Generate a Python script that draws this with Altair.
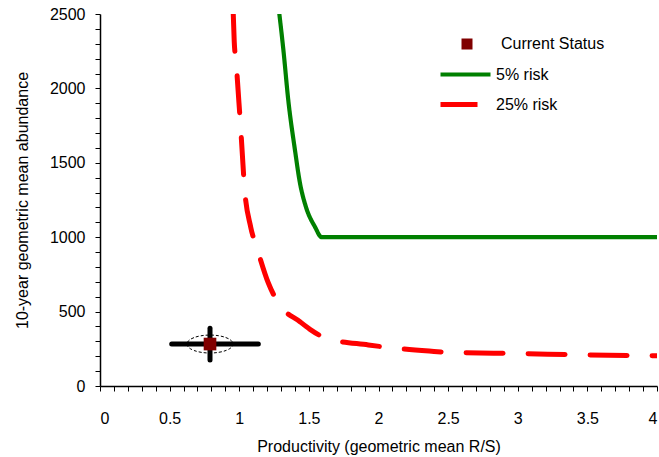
import altair as alt
import pandas as pd

# 5% risk curve
g_x = [1.288, 1.317, 1.352, 1.400, 1.436, 1.479, 1.544, 1.592, 4.0]
g_y = [2500, 2258, 1922, 1586, 1364, 1203, 1069, 1000, 1000]
# 25% risk curve
r_x = [0.957, 0.964, 0.977, 0.998, 1.008, 1.027, 1.036, 1.082, 1.125, 1.209, 1.280,
       1.436, 1.508, 1.627, 1.927, 2.063, 2.364, 2.508, 3.0, 3.5, 4.0]
r_y = [2500, 2314, 2180, 1902, 1767, 1485, 1351, 1069, 934, 692, 558,
       432, 381, 320, 276, 260, 235, 226, 218, 209, 203]
# current status with ranges
s_x = [0.79]
s_y = [282]
s_x_lo = [0.515]
s_x_hi = [1.137]
s_y_lo = [175]
s_y_hi = [388]

FONT = "Liberation Sans"
SERIES = ["5% risk", "25% risk"]

lines = pd.DataFrame({
    "x": g_x + r_x,
    "y": g_y + r_y,
    "series": [SERIES[0]] * len(g_x) + [SERIES[1]] * len(r_x),
    "order": list(range(len(g_x))) + list(range(len(r_x))),
})
status = pd.DataFrame({"x": s_x, "y": s_y, "xlo": s_x_lo, "xhi": s_x_hi,
                       "ylo": s_y_lo, "yhi": s_y_hi, "series": ["Current Status"]})

xs = alt.Scale(domain=[0, 4], nice=False, zero=False)
ys = alt.Scale(domain=[0, 2500], nice=False, zero=False)

x_ticks = [round(i * 0.1, 1) for i in range(41)]
y_ticks = list(range(0, 2501, 100))

x_axis = alt.Axis(title="Productivity (geometric mean R/S)", values=x_ticks, tickCount=len(x_ticks),
                  labelExpr="abs(datum.value*2 - round(datum.value*2)) < 1e-6 ? format(datum.value, '.1~f') : ''",
                  grid=False, tickSize=5, labelPadding=19, titlePadding=12, labelOverlap=False)
y_axis = alt.Axis(title="10-year geometric mean abundance", values=y_ticks, tickCount=len(y_ticks),
                  labelExpr="datum.value % 500 == 0 ? format(datum.value, 'd') : ''",
                  grid=False, tickSize=5, labelPadding=10, titlePadding=19, labelOverlap=False)

line_color = alt.Color("series:N",
                       scale=alt.Scale(domain=SERIES, range=["#008000", "#ff0000"]),
                       legend=alt.Legend(title=None, orient="none", legendX=353, legendY=48,
                                         symbolType="M -2.5 0 L 2.5 0", symbolSize=400,
                                         symbolStrokeWidth=3.5,
                                         labelFontSize=16, labelFont=FONT, labelOffset=18,
                                         rowPadding=9, padding=0))
line_dash = alt.StrokeDash("series:N",
                           scale=alt.Scale(domain=SERIES, range=[[1, 0], [37, 25]]),
                           legend=None)
line_width = alt.StrokeWidth("series:N",
                             scale=alt.Scale(domain=SERIES, range=[4.2, 5]),
                             legend=None)

curves = alt.Chart(lines).mark_line(interpolate="monotone", clip=True, strokeCap="round").encode(
    x=alt.X("x:Q", scale=xs, axis=x_axis),
    y=alt.Y("y:Q", scale=ys, axis=y_axis),
    color=line_color,
    strokeDash=line_dash,
    strokeWidth=line_width,
    order="order:Q",
)

hbar = alt.Chart(status).mark_rule(color="black", strokeWidth=5, strokeCap="round").encode(
    x="xlo:Q", x2="xhi:Q", y="y:Q")
vbar = alt.Chart(status).mark_rule(color="black", strokeWidth=5, strokeCap="round").encode(
    x="x:Q", y="ylo:Q", y2="yhi:Q")
ellipse = alt.Chart(status).mark_point(
    shape="M -1 0 A 1 0.39 0 1 0 1 0 A 1 0.39 0 1 0 -1 0 Z",
    size=2116, filled=False, stroke="black", strokeWidth=1, strokeDash=[3, 2], opacity=1
).encode(x="x:Q", y="y:Q")
square = alt.Chart(status).mark_point(filled=True, size=160, opacity=1).encode(
    x="x:Q", y="y:Q",
    shape=alt.Shape("series:N", scale=alt.Scale(domain=["Current Status"], range=["square"]),
                    legend=alt.Legend(title=None, orient="none", legendX=359, legendY=22,
                                      symbolSize=121, symbolFillColor="#800000",
                                      symbolStrokeColor="#800000", symbolStrokeWidth=0,
                                      labelFontSize=16, labelFont=FONT, labelOffset=26, padding=0)),
    color=alt.value("#800000"),
)

chart = alt.layer(curves, hbar, vbar, ellipse, square).properties(
    width=557, height=372,
    autosize=alt.AutoSizeParams(type="none"),
    padding={"left": 100, "top": 14, "right": 2, "bottom": 71},
).configure_view(stroke=None).configure_axis(
    domainColor="black", tickColor="black", domainWidth=1.5, tickWidth=1,
    labelColor="black", titleColor="black", labelFont=FONT, titleFont=FONT,
    labelFontSize=16, titleFontSize=16, titleFontWeight="normal",
).configure_legend(labelColor="black")

chart.save("out.html", embed_options={"renderer": "svg", "actions": False})
